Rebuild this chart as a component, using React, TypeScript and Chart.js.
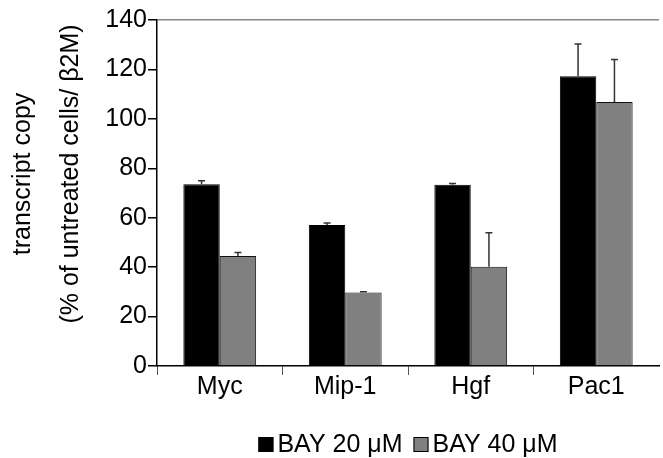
import React, { useEffect, useRef } from "react";
import { Chart, registerables } from "chart.js";

Chart.register(...registerables);

const categories = ["Myc", "Mip-1", "Hgf", "Pac1"];
const bay20 = [73.5, 57.1, 73.3, 117.2];
const err20 = [1.5, 0.8, 0.5, 13.1];
const bay40 = [44.5, 29.7, 40.2, 106.8];
const err40 = [1.4, 0.3, 13.7, 17.2];
const seriesLabels = ["BAY 20 \u03bcM", "BAY 40 \u03bcM"];
const seriesColors = ["#000000", "#808080"];
const yTitleLines = ["transcript copy", "(% of untreated cells/ \u03b22M)"];

const FONT = "'Liberation Sans', Arial, sans-serif";
const FS = 25;

const errorBarPlugin = {
  id: "errorBars",
  afterDatasetsDraw(chart: any) {
    const ctx = chart.ctx;
    const y = chart.scales.y;
    const errs = [err20, err40];
    ctx.save();
    ctx.strokeStyle = "#333333";
    ctx.lineWidth = 1.5;
    chart.data.datasets.forEach((ds: any, di: number) => {
      const meta = chart.getDatasetMeta(di);
      meta.data.forEach((bar: any, i: number) => {
        const v = ds.data[i];
        const e = errs[di][i];
        const yTop = y.getPixelForValue(v + e);
        const yBase = y.getPixelForValue(v);
        ctx.beginPath();
        ctx.moveTo(bar.x, yBase);
        ctx.lineTo(bar.x, yTop);
        ctx.moveTo(bar.x - 3.5, yTop);
        ctx.lineTo(bar.x + 3.5, yTop);
        ctx.stroke();
      });
    });
    ctx.restore();
  },
};

const titleLegendPlugin = {
  id: "titleLegend",
  afterDraw(chart: any) {
    const ctx = chart.ctx;
    const area = chart.chartArea;
    ctx.save();
    ctx.fillStyle = "#000";
    ctx.font = `${FS}px ${FONT}`;
    ctx.textAlign = "center";
    ctx.textBaseline = "alphabetic";
    const cy = 174;
    const xs = [30, 78];
    yTitleLines.forEach((t, i) => {
      ctx.save();
      ctx.translate(xs[i], cy);
      ctx.rotate(-Math.PI / 2);
      ctx.fillText(t, 0, 0);
      ctx.restore();
    });
    // legend
    const box = 15;
    const gap = 4;
    const itemGap = 11;
    const widths = seriesLabels.map((l) => ctx.measureText(l).width);
    const total = widths.reduce((s, w) => s + box + gap + w, 0) + itemGap;
    let x = (area.left + area.right) / 2 - total / 2;
    const by = 437;
    ctx.textAlign = "left";
    ctx.textBaseline = "middle";
    seriesLabels.forEach((l, i) => {
      ctx.fillStyle = seriesColors[i];
      ctx.fillRect(x, by, box, box);
      ctx.strokeStyle = "#000";
      ctx.lineWidth = 1;
      ctx.strokeRect(x + 0.5, by + 0.5, box - 1, box - 1);
      ctx.fillStyle = "#000";
      ctx.fillText(l, x + box + gap, by + box / 2 + 1);
      x += box + gap + widths[i] + itemGap;
    });
    ctx.restore();
  },
};

export default function App() {
  const ref = useRef<HTMLCanvasElement>(null);
  useEffect(() => {
    if (!ref.current) return;
    const chart = new Chart(ref.current, {
      type: "bar",
      data: {
        labels: categories,
        datasets: [
          {
            label: seriesLabels[0],
            data: bay20,
            backgroundColor: seriesColors[0],
            borderColor: "#000",
            borderWidth: 1,
            barPercentage: 1,
            categoryPercentage: 0.58,
          },
          {
            label: seriesLabels[1],
            data: bay40,
            backgroundColor: seriesColors[1],
            borderColor: "#111",
            borderWidth: 1,
            barPercentage: 1,
            categoryPercentage: 0.58,
          },
        ],
      },
      options: {
        responsive: false,
        animation: false,
        layout: { padding: { top: 20, right: 4, left: 0, bottom: 0 } },
        plugins: {
          legend: { display: false },
          tooltip: { enabled: false },
          title: { display: false },
        },
        scales: {
          x: {
            afterFit: (s: any) => {
              s.height = 92;
            },
            grid: {
              offset: true,
              drawOnChartArea: false,
              drawTicks: true,
              tickLength: 9,
              color: "#555",
              tickColor: (c: any) => (c.type === "tick" ? "#555" : "rgba(0,0,0,0)"),
            },
            border: { display: true, color: "#000", width: 1.5 },
            ticks: {
              color: "#000",
              font: { family: FONT, size: FS },
              padding: -3,
            },
          },
          y: {
            min: 0,
            max: 140,
            afterFit: (s: any) => {
              s.width = 157;
            },
            grid: {
              drawOnChartArea: true,
              drawTicks: true,
              tickLength: 9,
              color: (c: any) => (c.tick && c.tick.value === 140 ? "#888" : "rgba(0,0,0,0)"),
              tickColor: "#000",
              lineWidth: 1.5,
            },
            border: { display: true, color: "#000", width: 1.5 },
            ticks: {
              stepSize: 20,
              color: "#000",
              font: { family: FONT, size: FS },
              padding: 1,
            },
          },
        },
      },
      plugins: [errorBarPlugin, titleLegendPlugin],
    });
    return () => chart.destroy();
  }, []);
  return (
    <div style={{ position: "absolute", left: 0, top: 0, width: 663, height: 458, background: "#fff" }}>
      <canvas ref={ref} width={663} height={458} />
    </div>
  );
}
